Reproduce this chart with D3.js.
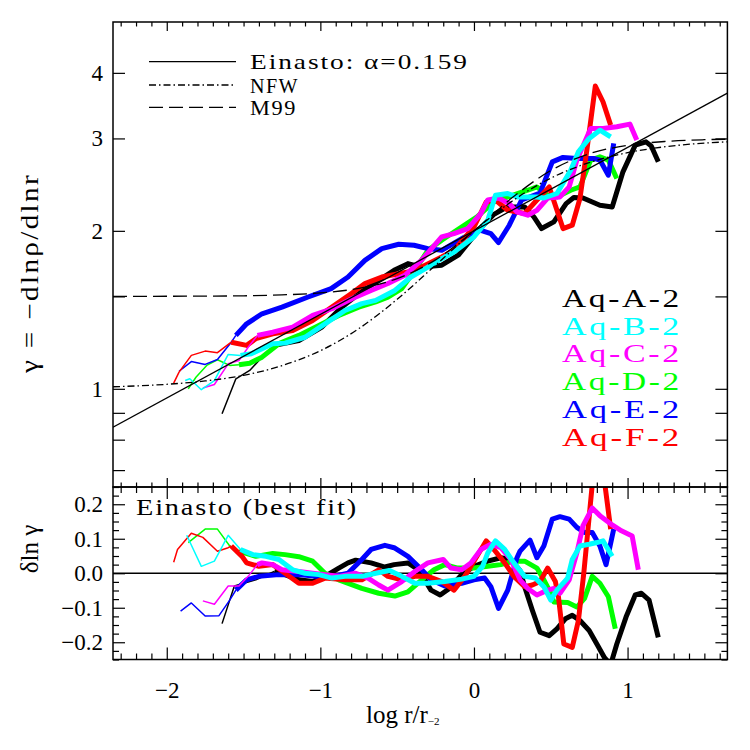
<!DOCTYPE html>
<html>
<head>
<meta charset="utf-8">
<script src="https://cdn.jsdelivr.net/npm/d3@7"></script>
<style>
  body { margin: 0; background: #fff; }
  svg { font-family: "Liberation Serif", "DejaVu Serif", serif; }
</style>
</head>
<body>
<svg width="750" height="750"></svg>
<script>
// halos, in legend order
const halos = ["Aq-A-2", "Aq-B-2", "Aq-C-2", "Aq-D-2", "Aq-E-2", "Aq-F-2"];
const colors = ["#000000", "#00ffff", "#ff00ff", "#00ff00", "#0000ff", "#ff0000"];
// log r/r-2 where each profile becomes thick (converged)
const convergeLogR = [-1.30, -1.52, -1.41, -1.53, -1.55, -1.58];

// [log r/r-2, gamma]
const gammaA = [[-1.64,0.896],[-1.55,1.045],[-1.46,1.084],[-1.38,1.149],[-1.30,1.21],[-1.14,1.236],[-0.99,1.311],[-0.86,1.431],[-0.75,1.518],[-0.62,1.61],[-0.52,1.682],[-0.43,1.732],[-0.34,1.706],[-0.21,1.72],[-0.10,1.80],[0.03,2.005],[0.13,2.15],[0.215,2.22],[0.33,2.22],[0.39,2.126],[0.44,2.02],[0.52,2.08],[0.60,2.254],[0.65,2.315],[0.71,2.31],[0.82,2.238],[0.90,2.221],[0.97,2.591],[1.05,2.913],[1.12,2.955],[1.155,2.9],[1.20,2.707]];
const gammaB = [[-1.88,1.037],[-1.85,1.045],[-1.775,0.996],[-1.69,1.037],[-1.60,1.163],[-1.52,1.158],[-1.45,1.166],[-1.31,1.219],[-1.23,1.222],[-1.10,1.254],[-0.97,1.33],[-0.84,1.41],[-0.73,1.453],[-0.64,1.474],[-0.515,1.54],[-0.41,1.633],[-0.30,1.706],[-0.21,1.77],[-0.13,1.823],[0.0,1.947],[0.09,2.096],[0.14,2.338],[0.22,2.356],[0.28,2.321],[0.41,2.321],[0.455,2.31],[0.54,2.356],[0.63,2.61],[0.68,2.829],[0.75,3.0],[0.82,3.11],[0.89,3.02]];
const gammaC = [[-1.765,1.004],[-1.69,1.019],[-1.60,1.116],[-1.53,1.132],[-1.47,1.2],[-1.41,1.264],[-1.31,1.282],[-1.18,1.311],[-1.05,1.38],[-0.925,1.421],[-0.795,1.485],[-0.67,1.54],[-0.56,1.587],[-0.45,1.645],[-0.34,1.76],[-0.21,1.947],[-0.13,1.976],[-0.04,2.02],[0.045,2.158],[0.09,2.29],[0.16,2.31],[0.23,2.254],[0.28,2.173],[0.35,2.142],[0.41,2.189],[0.48,2.31],[0.56,2.321],[0.62,2.425],[0.67,2.728],[0.76,3.135],[0.84,3.135],[0.93,3.157],[1.015,3.195],[1.06,2.978]];
const gammaD = [[-1.86,1.0],[-1.81,1.052],[-1.74,1.108],[-1.67,1.136],[-1.59,1.108],[-1.53,1.111],[-1.46,1.119],[-1.38,1.149],[-1.27,1.219],[-1.14,1.264],[-1.01,1.321],[-0.88,1.38],[-0.75,1.431],[-0.64,1.464],[-0.56,1.495],[-0.47,1.552],[-0.385,1.682],[-0.30,1.836],[-0.21,1.919],[-0.13,1.99],[0.02,2.126],[0.13,2.27],[0.22,2.321],[0.35,2.39],[0.41,2.425],[0.48,2.338],[0.54,2.321],[0.63,2.39],[0.69,2.425],[0.76,2.728],[0.82,2.767],[0.875,2.728],[0.93,2.517]];
const gammaE = [[-1.92,1.08],[-1.84,1.127],[-1.75,1.113],[-1.67,1.137],[-1.58,1.227],[-1.55,1.264],[-1.48,1.33],[-1.38,1.39],[-1.25,1.431],[-1.08,1.496],[-0.93,1.552],[-0.82,1.633],[-0.71,1.757],[-0.60,1.85],[-0.49,1.886],[-0.39,1.877],[-0.30,1.85],[-0.21,1.836],[-0.06,1.947],[0.045,2.005],[0.11,1.976],[0.16,1.90],[0.23,2.05],[0.31,2.29],[0.43,2.36],[0.51,2.707],[0.58,2.76],[0.67,2.748],[0.78,2.748],[0.82,2.728],[0.875,2.553],[0.91,2.935]];
const gammaF = [[-1.955,1.025],[-1.92,1.076],[-1.84,1.158],[-1.75,1.18],[-1.67,1.172],[-1.58,1.227],[-1.48,1.21],[-1.42,1.246],[-1.31,1.273],[-1.18,1.292],[-1.05,1.35],[-0.925,1.431],[-0.80,1.518],[-0.71,1.587],[-0.60,1.633],[-0.43,1.669],[-0.34,1.706],[-0.21,1.783],[-0.13,1.836],[0.0,2.034],[0.08,2.27],[0.14,2.29],[0.22,2.189],[0.33,2.158],[0.41,2.29],[0.49,2.425],[0.58,2.02],[0.64,2.05],[0.69,2.305],[0.735,2.85],[0.79,3.775],[0.84,3.524],[0.89,3.18]];

// [log r/r-2, delta ln gamma] against each halo's own Einasto fit
const resA = [[-1.64,-0.146],[-1.56,-0.037],[-1.42,-0.019],[-1.30,0.005],[-1.23,-0.004],[-1.14,-0.019],[-1.05,-0.024],[-0.97,-0.009],[-0.88,0.015],[-0.82,0.030],[-0.77,0.038],[-0.67,0.030],[-0.58,0.018],[-0.52,0.025],[-0.43,0.030],[-0.36,0.010],[-0.28,-0.049],[-0.22,-0.063],[-0.16,-0.044],[-0.08,-0.004],[0.0,0.020],[0.09,0.035],[0.175,0.045],[0.24,0.040],[0.30,0.008],[0.33,-0.039],[0.38,-0.107],[0.43,-0.171],[0.49,-0.181],[0.54,-0.161],[0.595,-0.132],[0.64,-0.122],[0.69,-0.137],[0.75,-0.166],[0.80,-0.205],[0.85,-0.245],[0.89,-0.265],[0.93,-0.205],[0.99,-0.127],[1.05,-0.063],[1.09,-0.058],[1.14,-0.078],[1.20,-0.186]];
const resB = [[-1.87,0.110],[-1.775,0.020],[-1.69,0.035],[-1.60,0.110],[-1.52,0.069],[-1.44,0.054],[-1.355,0.049],[-1.27,0.040],[-1.18,0.010],[-1.10,0.0],[-1.01,-0.004],[-0.925,-0.014],[-0.84,-0.009],[-0.73,-0.009],[-0.64,0.0],[-0.55,0.008],[-0.47,-0.009],[-0.385,-0.029],[-0.30,-0.029],[-0.19,-0.024],[-0.08,-0.017],[0.0,-0.009],[0.056,0.020],[0.09,0.059],[0.14,0.094],[0.20,0.069],[0.26,0.030],[0.33,-0.009],[0.40,-0.014],[0.455,-0.039],[0.50,-0.078],[0.54,-0.049],[0.61,-0.014],[0.64,0.040],[0.69,0.079],[0.75,0.084],[0.80,0.089],[0.84,0.094],[0.90,0.049]];
const resC = [[-1.765,-0.080],[-1.69,-0.090],[-1.60,-0.037],[-1.53,-0.037],[-1.47,-0.009],[-1.41,0.025],[-1.38,0.030],[-1.31,0.025],[-1.25,0.010],[-1.14,0.005],[-1.05,0.0],[-0.97,-0.004],[-0.88,-0.009],[-0.77,0.0],[-0.69,-0.014],[-0.62,-0.034],[-0.56,-0.049],[-0.47,-0.024],[-0.385,0.005],[-0.30,0.030],[-0.20,0.040],[-0.15,0.015],[-0.08,0.010],[-0.02,0.030],[0.045,0.069],[0.11,0.084],[0.175,0.074],[0.24,0.040],[0.30,-0.019],[0.35,-0.044],[0.41,-0.063],[0.48,-0.049],[0.52,-0.044],[0.56,-0.058],[0.62,-0.019],[0.67,0.059],[0.71,0.138],[0.77,0.189],[0.82,0.167],[0.90,0.140],[0.96,0.123],[1.03,0.108],[1.07,0.010]];
const resD = [[-1.86,0.089],[-1.75,0.128],[-1.67,0.128],[-1.59,0.079],[-1.53,0.064],[-1.42,0.049],[-1.31,0.057],[-1.23,0.054],[-1.14,0.048],[-1.05,0.035],[-0.97,0.0],[-0.88,-0.019],[-0.73,-0.044],[-0.62,-0.058],[-0.515,-0.066],[-0.43,-0.054],[-0.34,-0.019],[-0.26,0.010],[-0.19,0.025],[-0.105,0.015],[0.0,0.015],[0.09,0.020],[0.175,0.025],[0.26,0.035],[0.33,0.035],[0.41,0.015],[0.455,-0.019],[0.50,-0.058],[0.52,-0.083],[0.61,-0.085],[0.67,-0.098],[0.72,-0.073],[0.77,-0.009],[0.82,-0.029],[0.875,-0.068],[0.92,-0.161]];
const resE = [[-1.91,-0.110],[-1.84,-0.086],[-1.75,-0.124],[-1.66,-0.123],[-1.59,-0.078],[-1.55,-0.049],[-1.48,-0.019],[-1.40,-0.009],[-1.27,-0.004],[-1.14,-0.004],[-1.03,-0.009],[-0.93,-0.011],[-0.82,0.0],[-0.73,0.040],[-0.67,0.069],[-0.58,0.081],[-0.52,0.074],[-0.43,0.049],[-0.34,0.010],[-0.28,-0.019],[-0.19,-0.037],[-0.08,-0.029],[0.0,-0.019],[0.07,-0.014],[0.11,-0.039],[0.16,-0.102],[0.22,-0.049],[0.28,0.045],[0.30,0.064],[0.365,0.096],[0.41,0.045],[0.455,0.079],[0.51,0.157],[0.56,0.164],[0.62,0.157],[0.67,0.133],[0.72,0.118],[0.77,0.118],[0.82,0.079],[0.86,0.025],[0.91,0.128]];
const resF = [[-1.955,0.032],[-1.93,0.069],[-1.84,0.116],[-1.765,0.104],[-1.67,0.064],[-1.60,0.074],[-1.58,0.079],[-1.51,0.049],[-1.48,0.030],[-1.40,0.020],[-1.31,0.025],[-1.23,0.0],[-1.14,-0.029],[-1.05,-0.029],[-0.97,-0.014],[-0.84,-0.019],[-0.73,-0.019],[-0.62,0.010],[-0.56,-0.009],[-0.47,-0.019],[-0.385,-0.009],[-0.30,-0.009],[-0.21,-0.024],[-0.13,-0.049],[-0.06,-0.009],[0.0,0.035],[0.08,0.094],[0.13,0.069],[0.20,0.030],[0.26,-0.009],[0.33,-0.039],[0.38,-0.034],[0.43,-0.024],[0.48,0.015],[0.53,-0.024],[0.55,-0.068],[0.585,-0.205],[0.64,-0.215],[0.68,-0.137],[0.715,0.0],[0.79,0.35],[0.84,0.30],[0.89,0.128]];

// model curves
const einastoLogR = [-2.35, 1.65];
const einastoGamma = [0.845, 3.66];
const modelLogR = [-2.35, -2, -1.75, -1.5, -1.25, -1, -0.75, -0.5, -0.25, 0, 0.25, 0.5, 0.75, 1, 1.25, 1.5, 1.65];
const nfwGamma = [1.009, 1.020, 1.035, 1.061, 1.107, 1.182, 1.302, 1.481, 1.720, 2.000, 2.280, 2.520, 2.698, 2.818, 2.894, 2.939, 2.956];
const m99Gamma = [1.500, 1.501, 1.502, 1.504, 1.510, 1.523, 1.554, 1.622, 1.761, 2.000, 2.314, 2.606, 2.804, 2.911, 2.961, 2.983, 2.990];

// ticks
const xTicks = [-2, -1, 0, 1];
const gammaTicks = [1, 2, 3, 4];
const gammaMinor = [0.7, 0.8, 0.9, 1.5];
const resTicks = [-0.2, -0.1, 0, 0.1, 0.2];

const gammaData = [gammaA, gammaB, gammaC, gammaD, gammaE, gammaF];
const resData = [resA, resB, resC, resD, resE, resF];
const drawOrder = [0, 3, 4, 5, 2, 1];

const svg = d3.select('svg');
const L = 113, R = 727.4, T = 22, M = 487, B = 659.5;

const x = d3.scaleLinear().domain([-2.35, 1.65]).range([L, R]);
const yTop = d3.scaleLog().domain([0.65, 5]).range([M, T]);
const yBot = d3.scaleLinear().domain([-0.25, 0.25]).range([B, M]);

const defs = svg.append('defs');
defs.append('clipPath').attr('id', 'clipTop')
  .append('rect').attr('x', L).attr('y', T).attr('width', R - L).attr('height', M - T);
defs.append('clipPath').attr('id', 'clipBot')
  .append('rect').attr('x', L).attr('y', M).attr('width', R - L).attr('height', B - M);

const lineTop = d3.line().x(d => x(d[0])).y(d => yTop(d[1]));
const lineBot = d3.line().x(d => x(d[0])).y(d => yBot(d[1]));

// axes helper: ticks only, frame drawn separately
function axis(gen, tx, ty, vals, size, fmt, pad) {
  const g = svg.append('g')
    .attr('transform', `translate(${tx},${ty})`)
    .call(gen.tickValues(vals).tickSize(size).tickSizeOuter(0)
      .tickPadding(pad || 3).tickFormat(fmt || (() => '')));
  g.select('.domain').remove();
  g.selectAll('line').attr('stroke', '#000').attr('stroke-width', 1.2);
  g.attr('font-family', null).attr('font-size', 23);
  g.selectAll('text').attr('fill', '#000');
  return g;
}

const xMinor = d3.range(-23, 17).map(i => i / 10).filter(v => Math.abs(v - Math.round(v)) > 1e-6);
const resMinor = d3.range(-10, 11).map(i => i * 0.025).filter(v => Math.abs(v * 10 - Math.round(v * 10)) > 1e-6);

// top panel ticks
axis(d3.axisTop(x), 0, T, xTicks, -9);
axis(d3.axisTop(x), 0, T, xMinor, -4.5);
axis(d3.axisBottom(x), 0, M, xTicks, -9);
axis(d3.axisBottom(x), 0, M, xMinor, -4.5);
axis(d3.axisLeft(yTop), L, 0, gammaTicks.concat(gammaMinor), -12,
  d => gammaTicks.includes(d) ? d3.format('d')(d) : '', 10);
axis(d3.axisRight(yTop), R, 0, gammaTicks.concat(gammaMinor), -12);

// bottom panel ticks
axis(d3.axisTop(x), 0, M, xTicks, -12);
axis(d3.axisTop(x), 0, M, xMinor, -6);
axis(d3.axisBottom(x), 0, B, xTicks, -12, d3.format('d'), 22);
axis(d3.axisBottom(x), 0, B, xMinor, -6);
axis(d3.axisLeft(yBot), L, 0, resTicks, -12, d3.format('.1f'), 10);
axis(d3.axisLeft(yBot), L, 0, resMinor, -6);
axis(d3.axisRight(yBot), R, 0, resTicks, -12);
axis(d3.axisRight(yBot), R, 0, resMinor, -6);

// zero line
svg.append('line')
  .attr('x1', L).attr('x2', R).attr('y1', yBot(0)).attr('y2', yBot(0))
  .attr('stroke', '#000').attr('stroke-width', 1.3);

// halo profiles
const gTop = svg.append('g').attr('clip-path', 'url(#clipTop)');
const gBot = svg.append('g').attr('clip-path', 'url(#clipBot)');

function drawProfile(g, line, pts, conv, color) {
  const i = d3.bisector(d => d[0]).left(pts, conv);
  g.append('path').datum(pts.slice(0, i + 1))
    .attr('d', line).attr('fill', 'none')
    .attr('stroke', color).attr('stroke-width', 1.5).attr('stroke-linejoin', 'round');
  g.append('path').datum(pts.slice(i))
    .attr('d', line).attr('fill', 'none')
    .attr('stroke', color).attr('stroke-width', 5).attr('stroke-linejoin', 'round');
}

drawOrder.forEach(k => {
  drawProfile(gTop, lineTop, gammaData[k], convergeLogR[k], colors[k]);
  drawProfile(gBot, lineBot, resData[k], convergeLogR[k], colors[k]);
});

// model curves
const einasto = einastoLogR.map((v, i) => [v, einastoGamma[i]]);
const nfw = modelLogR.map((v, i) => [v, nfwGamma[i]]);
const m99 = modelLogR.map((v, i) => [v, m99Gamma[i]]);
const smooth = d3.line().curve(d3.curveMonotoneX).x(d => x(d[0])).y(d => yTop(d[1]));

gTop.append('path').datum(einasto).attr('d', lineTop)
  .attr('fill', 'none').attr('stroke', '#000').attr('stroke-width', 1.3);
gTop.append('path').datum(nfw).attr('d', smooth)
  .attr('fill', 'none').attr('stroke', '#000').attr('stroke-width', 1.3)
  .attr('stroke-dasharray', '7,3,1.5,3');
gTop.append('path').datum(m99).attr('d', smooth)
  .attr('fill', 'none').attr('stroke', '#000').attr('stroke-width', 1.3)
  .attr('stroke-dasharray', '14,6');

// frames
svg.append('rect').attr('x', L).attr('y', T).attr('width', R - L).attr('height', M - T)
  .attr('fill', 'none').attr('stroke', '#000').attr('stroke-width', 1.5);
svg.append('rect').attr('x', L).attr('y', M).attr('width', R - L).attr('height', B - M)
  .attr('fill', 'none').attr('stroke', '#000').attr('stroke-width', 1.5);

// wide, thin lettering like the original vector font
function wide(sel, width, spacing) {
  return sel.attr('letter-spacing', spacing).attr('textLength', width)
    .attr('lengthAdjust', 'spacingAndGlyphs');
}

// model legend
const modelNames = ['Einasto: \u03b1=0.159', 'NFW', 'M99'];
const modelDash = [null, '7,3,1.5,3', '14,6'];
const modelRowY = [61.7, 85, 107.3];
const modelTextW = [219, 49, 47];
modelNames.forEach((name, i) => {
  svg.append('line').attr('x1', 149).attr('x2', 236)
    .attr('y1', modelRowY[i]).attr('y2', modelRowY[i])
    .attr('stroke', '#000').attr('stroke-width', 1.3)
    .attr('stroke-dasharray', modelDash[i]);
  wide(svg.append('text').attr('x', 250).attr('y', modelRowY[i] + 7.5)
    .attr('font-size', 21), modelTextW[i], 1.5).text(name);
});

// halo legend
halos.forEach((name, i) => {
  wide(svg.append('text').attr('x', 562).attr('y', 307 + i * 27.7)
    .attr('font-size', 25).attr('fill', colors[i]), 120, 2).text(name);
});

wide(svg.append('text').attr('x', 136).attr('y', 515)
  .attr('font-size', 23), 222, 1.5).text('Einasto (best fit)');

// axis titles
wide(svg.append('text')
  .attr('transform', 'translate(38,273) rotate(-90)')
  .attr('text-anchor', 'middle').attr('font-size', 25), 200, 2)
  .text('\u03b3 = \u2212dln\u03c1/dlnr');

svg.append('text')
  .attr('transform', 'translate(38,549) rotate(-90)')
  .attr('text-anchor', 'middle').attr('font-size', 25)
  .text('\u03b4ln \u03b3');

const xt = svg.append('text').attr('x', 366).attr('y', 723).attr('font-size', 25);
xt.append('tspan').text('log r/r');
xt.append('tspan').attr('font-size', 11).attr('dy', 2).text('\u22122');
</script>
</body>
</html>
